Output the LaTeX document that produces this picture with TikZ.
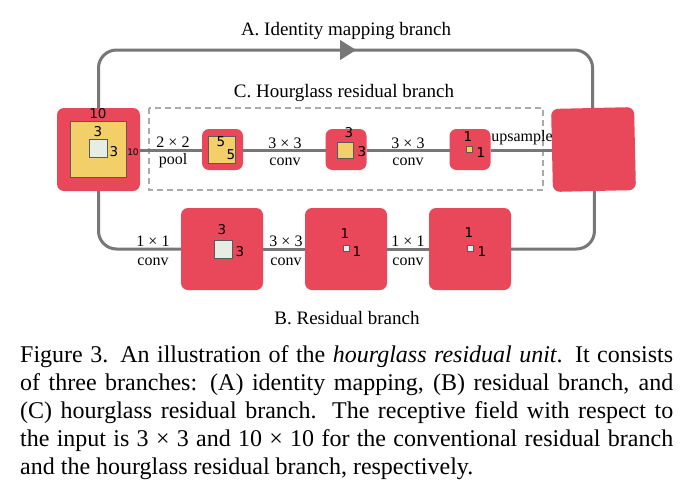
\documentclass[tikz,border=0pt]{standalone}
\usepackage{fontspec}
\setmainfont{Liberation Serif}
\newfontfamily\numfont{DejaVu Sans}
\usetikzlibrary{arrows.meta,decorations.markings}
\definecolor{boxred}{HTML}{E8485A}
\definecolor{sqyellow}{HTML}{F2CF68}
\definecolor{sqwhite}{HTML}{E6EDE4}
\definecolor{sqborder}{HTML}{5A5A5A}
\definecolor{linegray}{HTML}{777777}
\definecolor{dashgray}{HTML}{AAAAAA}
\tikzset{
  redbox/.style={fill=boxred, rounded corners=7pt, minimum size=#1, inner sep=0pt, outer sep=0pt},
  ysq/.style={fill=sqyellow, draw=sqborder, line width=0.9pt, minimum size=#1, inner sep=0pt},
  wsq/.style={fill=sqwhite, draw=sqborder, line width=0.9pt, minimum size=#1, inner sep=0pt},
  num/.style={font=\numfont\fontsize{13.5}{14}\selectfont, inner sep=0pt},
  smallnum/.style={font=\numfont\fontsize{9}{10}\selectfont, inner sep=0pt},
  lbl/.style={font=\fontsize{16}{18}\selectfont, inner sep=0pt},
  title/.style={font=\fontsize{19}{22}\selectfont, inner sep=0pt},
  conn/.style={draw=linegray, line width=3pt},
}
\begin{document}
\begin{tikzpicture}[x=1pt,y=-1pt]
\useasboundingbox (0,0) rectangle (693,493);
\fill[white] (0,0) rectangle (693,493);
% dashed hourglass frame
\draw[dashgray, line width=1.3pt, dash pattern=on 6pt off 4pt] (149,108) rectangle (543,190);
% boxes
\node[redbox=83pt] (L) at (98.5,149.5) {};
\node[ysq=56pt] (Ly) at (98,149) {};
\node[wsq=18pt] (Lw) at (98,148) {};
\node[redbox=41pt] (P2) at (222.5,149.5) {};
\node[ysq=27pt] (P2y) at (221.5,149.5) {};
\node[redbox=41pt] (P3) at (346,149.5) {};
\node[ysq=16pt] (P3y) at (345.5,150) {};
\node[redbox=41pt] (P4) at (470,149.5) {};
\node[ysq=6pt] (P4y) at (469,149) {};
\node[redbox=83pt, rotate=1.3] (R) at (593.5,149.5) {};
\node[redbox=82pt] (B1) at (222,249) {};
\node[wsq=18pt] (B1w) at (223,249) {};
\node[redbox=82pt] (B2) at (346,249) {};
\node[wsq=6pt] (B2w) at (346,248) {};
\node[redbox=82pt] (B3) at (470,249) {};
\node[wsq=6pt] (B3w) at (470,248) {};
% connectors
\draw[conn, rounded corners=18pt,
  postaction={decorate, decoration={markings, mark=at position 0.518 with {\arrow[linegray]{Triangle[length=16pt,width=19pt]}}}}]
  (L.north) -- ++(0,-58) -| (R.north);
\draw[conn] (L.east |- 0,150) -- (P2.west |- 0,150);
\draw[conn] (P2.east |- 0,150) -- (P3.west |- 0,150);
\draw[conn] (P3.east |- 0,150) -- (P4.west |- 0,150);
\draw[conn] (P4.east |- 0,150) -- (R.west |- 0,150);
\draw[conn, rounded corners=18pt] (L.south) |- (B1.west);
\draw[conn] (B1.east) -- (B2.west);
\draw[conn] (B2.east) -- (B3.west);
\draw[conn, rounded corners=18pt] (B3.east) -| (R.south);
% numbers
\node[num] (n1) at (98,114) {10};
\node[smallnum] (n2) at (133,152) {10};
\node[num] (n3) at (98,132) {3};
\node[num] (n4) at (114,152) {3};
\node[num] (n5) at (221,142) {5};
\node[num] (n6) at (231,155) {5};
\node[num] (n7) at (349,133) {3};
\node[num] (n8) at (362,152) {3};
\node[num] (n9) at (468,137) {1};
\node[num] (n10) at (481,153) {1};
\node[num] (n11) at (222,230) {3};
\node[num] (n12) at (240,252) {3};
\node[num] (n13) at (345,234) {1};
\node[num] (n14) at (357,252) {1};
\node[num] (n15) at (469,233) {1};
\node[num] (n16) at (482,252) {1};
% operation labels
\node[lbl] (t1) at (173,142) {2 × 2};
\node[lbl] (t2) at (173,161) {pool};
\node[lbl] (t3) at (285,143) {3 × 3};
\node[lbl] (t4) at (285,162) {conv};
\node[lbl] (t5) at (408,143) {3 × 3};
\node[lbl] (t6) at (408,162) {conv};
\node[lbl] (t7) at (522,138) {upsample};
\node[lbl] (t8) at (153,241) {1 × 1};
\node[lbl] (t9) at (153,262) {conv};
\node[lbl] (t10) at (286,241) {3 × 3};
\node[lbl] (t11) at (286,262) {conv};
\node[lbl] (t12) at (408,241) {1 × 1};
\node[lbl] (t13) at (408,262) {conv};
% branch titles
\node[title] (ta) at (346,31) {A. Identity mapping branch};
\node[title] (tc) at (344,93) {C. Hourglass residual branch};
\node[title] (tb) at (347,318) {B. Residual branch};
% caption
\node[anchor=base west, inner sep=0pt, text width=653pt, align=justify,
      font=\fontsize{24}{28}\selectfont] (cap) at (20,362)
 {Figure 3.\enspace An illustration of the \textit{hourglass residual unit}. It consists\linebreak
  of three branches: (A) identity mapping, (B) residual branch, and\linebreak
  (C) hourglass residual branch. The receptive field with respect to\linebreak
  the input is 3 × 3 and 10 × 10 for the conventional residual branch\linebreak
  and the hourglass residual branch, respectively.};
\end{tikzpicture}
\end{document}
